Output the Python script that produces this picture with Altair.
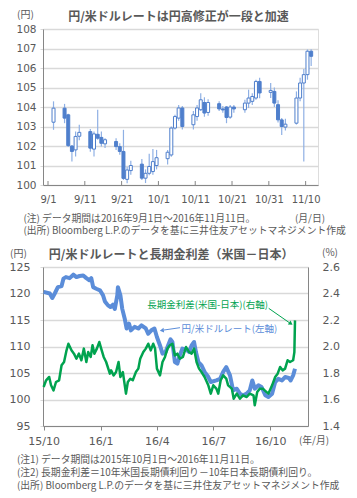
import altair as alt
import pandas as pd

# ---------------- top chart: USD/JPY daily candles (2016/9 - 2016/11) ----------------
candle_dates = [
    "2016-09-02", "2016-09-05", "2016-09-06", "2016-09-07", "2016-09-08", "2016-09-09",
    "2016-09-12", "2016-09-13", "2016-09-14", "2016-09-15", "2016-09-16",
    "2016-09-19", "2016-09-20", "2016-09-21", "2016-09-22", "2016-09-23",
    "2016-09-26", "2016-09-27", "2016-09-28", "2016-09-29", "2016-09-30",
    "2016-10-03", "2016-10-04", "2016-10-05", "2016-10-06", "2016-10-07",
    "2016-10-10", "2016-10-11", "2016-10-12", "2016-10-13", "2016-10-14",
    "2016-10-17", "2016-10-18", "2016-10-19", "2016-10-20", "2016-10-21",
    "2016-10-24", "2016-10-25", "2016-10-26", "2016-10-27", "2016-10-28",
    "2016-10-31", "2016-11-01", "2016-11-02", "2016-11-03", "2016-11-04",
    "2016-11-07", "2016-11-08", "2016-11-09", "2016-11-10", "2016-11-11",
]
candle_open = [
    103.22, 103.94, 103.60, 102.00, 101.80, 102.50,
    102.74, 101.84, 102.60, 102.44, 102.11,
    102.23, 101.97, 101.72, 100.29, 100.74,
    101.07, 100.35, 100.60, 100.69, 101.00,
    101.35, 101.54, 102.92, 103.43, 103.95,
    103.09, 103.51, 103.86, 104.23, 103.72,
    104.17, 103.90, 104.00, 103.48, 104.00,
    103.86, 104.20, 104.29, 104.46, 105.31,
    104.75, 104.80, 104.12, 103.34, 102.97,
    103.17, 104.46, 105.23, 105.66, 106.86,
]
candle_high = [
    104.29, 104.16, 103.65, 102.05, 102.74, 103.09,
    102.87, 102.74, 103.86, 102.74, 102.40,
    102.40, 102.14, 102.83, 100.94, 101.25,
    101.33, 100.80, 101.60, 101.84, 101.80,
    101.80, 103.00, 103.60, 104.10, 104.05,
    103.80, 104.10, 104.70, 104.50, 104.40,
    104.30, 104.05, 104.05, 104.10, 104.10,
    104.37, 104.89, 104.70, 105.40, 105.50,
    105.23, 105.00, 104.35, 103.43, 103.40,
    104.80, 105.50, 105.95, 106.95, 106.96,
]
candle_low = [
    102.83, 103.17, 101.95, 101.20, 101.46, 102.30,
    101.71, 101.46, 102.32, 101.97, 101.90,
    101.80, 101.55, 100.26, 100.09, 100.52,
    100.26, 100.10, 100.50, 100.52, 100.80,
    101.05, 101.45, 102.85, 103.30, 102.85,
    102.85, 103.30, 103.80, 103.50, 103.55,
    103.79, 103.70, 103.17, 103.40, 103.70,
    103.70, 103.95, 104.10, 104.37, 104.45,
    104.46, 104.00, 103.20, 102.57, 102.80,
    103.10, 104.30, 101.20, 105.40, 106.10,
]
candle_close = [
    103.94, 103.43, 102.02, 101.72, 102.49, 102.70,
    101.89, 102.62, 102.40, 102.14, 102.32,
    101.97, 101.72, 100.34, 100.77, 101.00,
    100.35, 100.60, 100.95, 101.20, 101.40,
    101.68, 102.92, 103.51, 103.95, 103.00,
    103.60, 103.95, 104.37, 103.69, 104.23,
    103.90, 103.85, 103.46, 104.00, 103.90,
    104.20, 104.46, 104.54, 105.31, 104.72,
    104.85, 104.20, 103.34, 103.00, 103.12,
    104.46, 105.23, 105.66, 106.86, 106.60,
]
top_tick_days = ["2016-09-01", "2016-09-11", "2016-09-21", "2016-10-01",
                 "2016-10-11", "2016-10-21", "2016-10-31", "2016-11-10"]
top_y_ticks = [100, 101, 102, 103, 104, 105, 106, 107, 108]

# ---------------- bottom chart: USD/JPY and US-JP 10y spread ----------------
fx_dates = [
    "2015-10-01", "2015-10-11", "2015-10-15", "2015-10-19", "2015-10-24", "2015-10-30",
    "2015-11-02", "2015-11-06", "2015-11-12", "2015-11-18", "2015-11-23", "2015-11-28",
    "2015-12-04", "2015-12-09", "2015-12-14", "2015-12-17", "2015-12-20", "2015-12-25",
    "2015-12-31", "2016-01-05", "2016-01-08", "2016-01-13", "2016-01-17", "2016-01-21",
    "2016-01-24", "2016-01-28", "2016-01-29", "2016-02-02", "2016-02-05", "2016-02-09",
    "2016-02-12", "2016-02-16", "2016-02-19", "2016-02-25", "2016-03-02", "2016-03-07",
    "2016-03-14", "2016-03-18", "2016-03-23", "2016-03-28", "2016-04-01", "2016-04-06",
    "2016-04-10", "2016-04-15", "2016-04-19", "2016-04-23", "2016-04-26", "2016-04-30",
    "2016-05-04", "2016-05-08", "2016-05-12", "2016-05-18", "2016-05-23", "2016-05-27",
    "2016-05-31", "2016-06-03", "2016-06-07", "2016-06-12", "2016-06-17", "2016-06-23",
    "2016-06-27", "2016-07-06", "2016-07-12", "2016-07-17", "2016-07-22", "2016-07-28",
    "2016-08-02", "2016-08-08", "2016-08-13", "2016-08-18", "2016-08-24", "2016-08-29",
    "2016-09-02", "2016-09-06", "2016-09-12", "2016-09-17", "2016-09-23", "2016-09-28",
    "2016-10-04", "2016-10-09", "2016-10-14", "2016-10-20", "2016-10-25", "2016-10-31",
    "2016-11-03", "2016-11-07", "2016-11-10",
]
fx_values = [
    120.3, 120.0, 119.15, 120.0, 121.2, 121.4,
    122.8, 123.1, 122.9, 123.55, 123.1, 123.3,
    123.4, 122.9, 122.5, 122.9, 121.2, 120.9,
    120.6, 119.65, 118.5, 117.76, 117.45, 117.9,
    117.1, 119.65, 121.2, 119.65, 117.1, 115.25,
    113.4, 114.3, 113.05, 113.7, 113.4, 114.0,
    113.4, 112.4, 113.05, 113.4, 111.8, 110.2,
    108.65, 108.96, 110.2, 111.35, 110.85, 107.07,
    106.76, 108.33, 109.6, 109.46, 108.96, 110.2,
    110.85, 108.96, 107.07, 106.44, 105.2, 104.24,
    103.3, 103.6, 103.9, 105.2, 106.1, 104.56,
    101.73, 102.04, 101.1, 100.8, 101.1, 101.73,
    103.6, 102.04, 102.67, 102.36, 100.8, 100.47,
    101.1, 103.3, 103.9, 103.6, 104.24, 104.05,
    103.6, 104.56, 105.8,
]
spread_dates = [
    "2015-10-01", "2015-10-05", "2015-10-10", "2015-10-13", "2015-10-17", "2015-10-21",
    "2015-10-26", "2015-10-30", "2015-11-03", "2015-11-07", "2015-11-10", "2015-11-15",
    "2015-11-19", "2015-11-23", "2015-11-27", "2015-12-01", "2015-12-05", "2015-12-09",
    "2015-12-12", "2015-12-16", "2015-12-19", "2015-12-22", "2015-12-26", "2015-12-30",
    "2016-01-02", "2016-01-06", "2016-01-10", "2016-01-16", "2016-01-18", "2016-01-22",
    "2016-01-26", "2016-01-30", "2016-02-02", "2016-02-06", "2016-02-11", "2016-02-14",
    "2016-02-18", "2016-02-22", "2016-02-27", "2016-03-02", "2016-03-05", "2016-03-10",
    "2016-03-14", "2016-03-18", "2016-03-22", "2016-03-26", "2016-03-29", "2016-04-01",
    "2016-04-06", "2016-04-10", "2016-04-14", "2016-04-18", "2016-04-22", "2016-04-26",
    "2016-04-30", "2016-05-04", "2016-05-08", "2016-05-13", "2016-05-18", "2016-05-23",
    "2016-05-27", "2016-05-31", "2016-06-04", "2016-06-08", "2016-06-12", "2016-06-17",
    "2016-06-23", "2016-06-27", "2016-07-01", "2016-07-06", "2016-07-09", "2016-07-13",
    "2016-07-17", "2016-07-22", "2016-07-25", "2016-07-31", "2016-08-03", "2016-08-08",
    "2016-08-13", "2016-08-18", "2016-08-24", "2016-08-29", "2016-09-04", "2016-09-06",
    "2016-09-10", "2016-09-14", "2016-09-19", "2016-09-22", "2016-09-28", "2016-10-04",
    "2016-10-09", "2016-10-13", "2016-10-17", "2016-10-21", "2016-10-25", "2016-10-29",
    "2016-11-02", "2016-11-07", "2016-11-09", "2016-11-10",
]
spread_values = [
    1.694, 1.745, 1.77, 1.707, 1.669, 1.732,
    1.745, 1.858, 1.883, 1.971, 2.021, 1.971,
    1.946, 1.908, 1.946, 1.896, 1.984, 1.883,
    1.958, 1.921, 2.009, 1.946, 1.984, 2.034,
    1.984, 1.921, 1.883, 1.795, 1.82, 1.782,
    1.807, 1.883, 1.77, 1.807, 1.644, 1.732,
    1.757, 1.745, 1.807, 1.833, 1.908, 1.958,
    1.984, 2.021, 1.971, 2.021, 1.984, 1.833,
    1.782, 1.883, 1.921, 1.984, 2.009, 2.021,
    1.933, 1.946, 1.908, 1.921, 1.996, 1.958,
    1.946, 1.984, 1.883, 1.833, 1.807, 1.77,
    1.707, 1.644, 1.707, 1.682, 1.644, 1.745,
    1.782, 1.757, 1.707, 1.682, 1.606, 1.644,
    1.606, 1.631, 1.619, 1.644, 1.631, 1.556,
    1.657, 1.682, 1.682, 1.669, 1.644, 1.707,
    1.77, 1.795, 1.845, 1.82, 1.833, 1.896,
    1.883, 1.896, 1.958, 2.197,
]
bottom_tick_days = ["2015-10-01", "2016-01-01", "2016-04-01", "2016-07-01", "2016-10-01"]
yen_ticks = [95, 100, 105, 110, 115, 120, 125]
pct_ticks = [1.4, 1.6, 1.8, 2.0, 2.2, 2.4, 2.6]

# ---------------- styling ----------------
FONT_JP = "Noto Sans CJK JP"
FONT_NUM = "DejaVu Sans"
GRAY = "#595959"
AXIS_GRAY = "#868686"
GRID = "#D9D9D9"
CANDLE = "#4F7FCC"
WICK = "#8FB0E4"
FX_BLUE = "#5B8DD9"
GREEN = "#00A34F"


def dt(s):
    y, m, d = map(int, s.split("-"))
    return alt.DateTime(year=y, month=m, date=d, utc=True)


def txt(s, x, y, size, color=GRAY, weight="normal", align="left", font=FONT_JP):
    return alt.Chart(pd.DataFrame({"t": [s]})).mark_text(
        align=align, baseline="middle", fontSize=size, color=color,
        font=font, fontWeight=weight
    ).encode(text="t:N", x=alt.value(x), y=alt.value(y))


# ---------------- top panel ----------------
W1, H1 = 275, 156
cdf = pd.DataFrame({
    "date": [d + "T12:00:00Z" for d in candle_dates],
    "open": candle_open, "high": candle_high,
    "low": candle_low, "close": candle_close,
})
xs1 = alt.Scale(type="utc", domain=[dt("2016-09-01"), dt("2016-11-12")])
ys1 = alt.Scale(domain=[100, 108], nice=False, zero=False)
ax1 = alt.Axis(
    values=[dt(d) for d in top_tick_days],
    labelExpr="utcFormat(datum.value, '%-m/%-d')",
    grid=False, tickSize=0, labelPadding=9, labelFont=FONT_NUM,
    labelFontSize=10, labelColor=GRAY, domainColor=AXIS_GRAY,
    labelFlush=False, labelOverlap=False, title=None)
ay1 = alt.Axis(
    values=top_y_ticks, format="d", gridColor=GRID, gridWidth=1.5,
    tickColor=GRID, tickSize=3, labelPadding=4, labelFont=FONT_NUM,
    labelFontSize=10.5, labelColor=GRAY, domainColor=AXIS_GRAY,
    labelOverlap=False, labelFlush=False, title=None)

wicks = alt.Chart(cdf).mark_rule(color=WICK, strokeWidth=1.2).encode(
    x=alt.X("date:T", scale=xs1, axis=ax1),
    y=alt.Y("low:Q", scale=ys1, axis=ay1),
    y2="high:Q",
)
bodies = alt.Chart(cdf).mark_bar(size=3, stroke=CANDLE, strokeWidth=1).encode(
    x=alt.X("date:T", scale=xs1, axis=ax1),
    y=alt.Y("open:Q", scale=ys1, axis=ay1),
    y2="close:Q",
    fill=alt.condition("datum.close >= datum.open", alt.value("white"), alt.value(CANDLE)),
)
tick_df = pd.DataFrame({"date": [d + "T00:00:00Z" for d in top_tick_days]})
inner_ticks = alt.Chart(tick_df).mark_rule(color=AXIS_GRAY).encode(
    x=alt.X("date:T", scale=xs1, axis=ax1), y=alt.value(H1 - 4), y2=alt.value(H1)
)

top = alt.layer(
    wicks, bodies, inner_ticks,
    txt("(円)", -26, -14.5, 10),
    txt("円/米ドルレートは円高修正が一段と加速", 135.5, -12.5, 12, weight="bold", align="center"),
    txt("(注) データ期間は2016年9月1日～2016年11月11日。", -19.5, 189.5, 9.8),
    txt("(月/日)", 252, 189.5, 9.8),
    txt("(出所) Bloomberg L.P.のデータを基に三井住友アセットマネジメント作成", -19.5, 202.2, 9.8),
).properties(width=W1, height=H1)

# ---------------- bottom panel ----------------
W2, H2 = 265, 159
fxdf = pd.DataFrame({"date": [d + "T00:00:00Z" for d in fx_dates], "v": fx_values})
spdf = pd.DataFrame({"date": [d + "T00:00:00Z" for d in spread_dates], "r": spread_values})
xs2 = alt.Scale(type="utc", domain=[dt("2015-09-30"), dt("2016-12-01")])
ax2 = alt.Axis(
    values=[dt(d) for d in bottom_tick_days],
    labelExpr="utcFormat(datum.value, '%y/%-m')",
    grid=False, tickSize=4, tickColor=AXIS_GRAY, labelPadding=5,
    labelFont=FONT_NUM, labelFontSize=11, labelColor=GRAY,
    domainColor=AXIS_GRAY, labelFlush=False, labelOverlap=False, title=None)

fx_line = alt.Chart(fxdf).mark_line(color=FX_BLUE, strokeWidth=4, strokeJoin="round").encode(
    x=alt.X("date:T", scale=xs2, axis=ax2),
    y=alt.Y("v:Q", scale=alt.Scale(domain=[95, 125], nice=False, zero=False),
            axis=alt.Axis(orient="left", values=yen_ticks, gridColor=GRID, gridWidth=1.5,
                          tickColor=GRID, tickSize=3, labelPadding=10, labelFont=FONT_NUM,
                          labelFontSize=11, labelColor=GRAY, domainColor=AXIS_GRAY,
                          labelOverlap=False, labelFlush=False, title=None)),
)
sp_line = alt.Chart(spdf).mark_line(color=GREEN, strokeWidth=2.5, strokeJoin="round").encode(
    x=alt.X("date:T", scale=xs2, axis=ax2),
    y=alt.Y("r:Q", scale=alt.Scale(domain=[1.4, 2.6], nice=False, zero=False),
            axis=alt.Axis(orient="right", values=pct_ticks, format=".1f", grid=False,
                          tickSize=0, labelPadding=14, labelFont=FONT_NUM, labelFontSize=11,
                          labelColor=GRAY, domainColor=AXIS_GRAY, labelOverlap=False,
                          labelFlush=False, title=None)),
)

arrow_df = pd.DataFrame({"k": [0]})
green_arrow = alt.Chart(arrow_df).mark_rule(color=GREEN, strokeWidth=1).encode(
    x=alt.value(225.7), x2=alt.value(246.5), y=alt.value(41.3), y2=alt.value(55.8))
green_head = alt.Chart(arrow_df).mark_point(
    shape="triangle", filled=True, color=GREEN, size=22, angle=125, opacity=1
).encode(x=alt.value(247.3), y=alt.value(56.3))
blue_arrow = alt.Chart(arrow_df).mark_rule(color=FX_BLUE, strokeWidth=1).encode(
    x=alt.value(137), x2=alt.value(121), y=alt.value(60.7), y2=alt.value(63))
blue_head = alt.Chart(arrow_df).mark_point(
    shape="triangle", filled=True, color=FX_BLUE, size=22, angle=262, opacity=1
).encode(x=alt.value(119.5), y=alt.value(63.3))

bottom = alt.layer(
    fx_line, sp_line, green_arrow, green_head, blue_arrow, blue_head,
    txt("長期金利差(米国-日本)(右軸)", 104.3, 37.7, 9.5, color=GREEN),
    txt("円/米ドルレート(左軸)", 138.5, 61.5, 9.5, color=FX_BLUE),
    txt("(円)", -33, -13, 10),
    txt("(%)", 279, -14, 10),
    txt("円/米ドルレートと長期金利差（米国－日本）", 128.2, -12, 12, weight="bold", align="center"),
    txt("(年/月)", 256, 174, 9.8),
    txt("(注1) データ期間は2015年10月1日～2016年11月11日。", -26, 193, 9.8),
    txt("(注2) 長期金利差＝10年米国長期債利回り－10年日本長期債利回り。", -26, 206.3, 9.8),
    txt("(出所) Bloomberg L.P.のデータを基に三井住友アセットマネジメント作成", -26, 219, 9.8),
).resolve_scale(y="independent").properties(width=W2, height=H2)

chart = alt.vconcat(top, bottom, spacing=10).properties(
    padding={"left": 8, "top": 9, "right": 0, "bottom": 0}
).configure_view(stroke=AXIS_GRAY, strokeWidth=1).configure(background="white")

chart.save("out.html", embed_options={"renderer": "svg", "actions": False})
